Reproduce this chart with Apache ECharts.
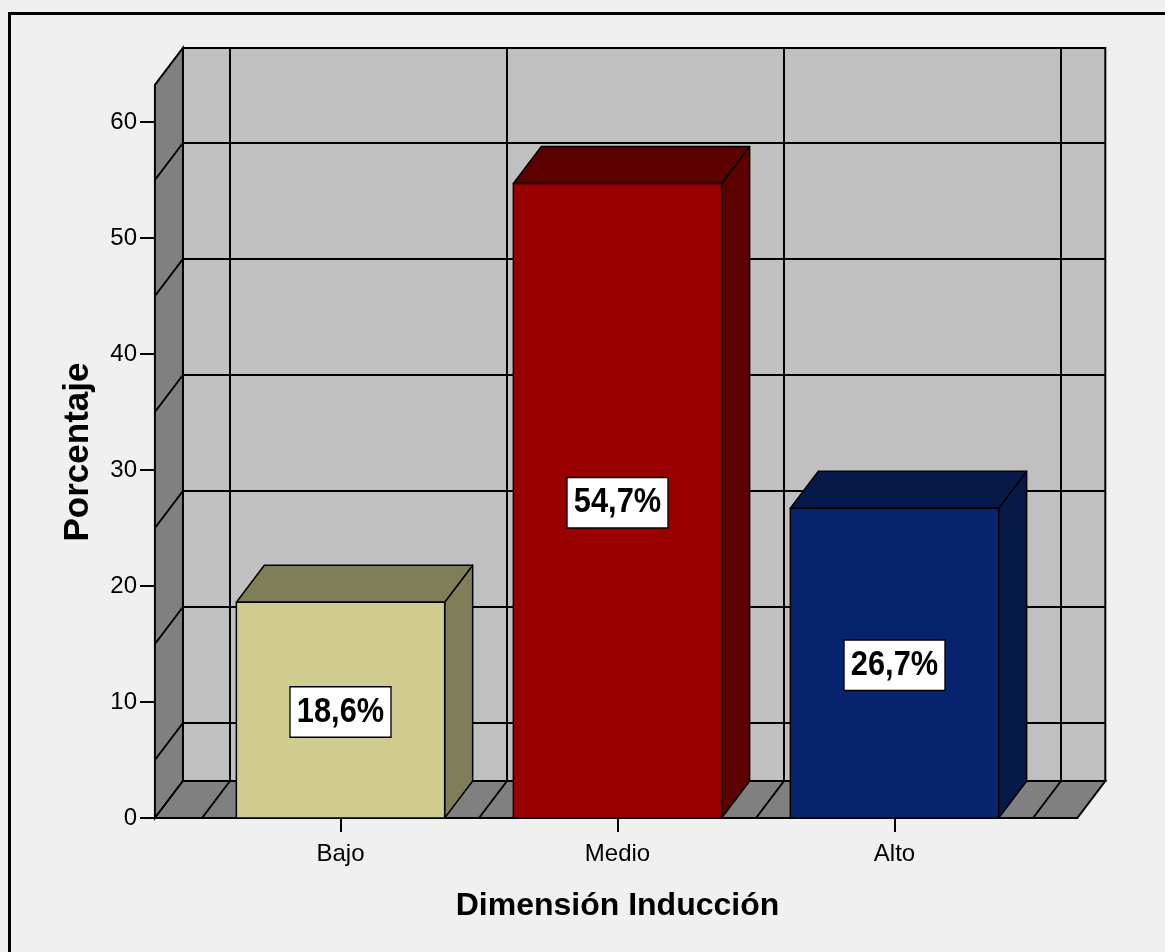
<!DOCTYPE html>
<html>
<head>
<meta charset="utf-8">
<title>Dimensión Inducción</title>
<script src="https://cdn.jsdelivr.net/npm/echarts@6/dist/echarts.min.js"></script>
<style>
    html, body { margin: 0; padding: 0; background: #f0f0f0; }
    #chart { width: 1165px; height: 952px; }
</style>
</head>
<body>
<div id="chart"></div>
<script>
    // data
    const categories = ['Bajo', 'Medio', 'Alto'];
    const percentages = [18.6, 54.7, 26.7];
    const valueLabels = ['18,6%', '54,7%', '26,7%'];
    const yTicks = [0, 10, 20, 30, 40, 50, 60];
    // spss draws the wall grid half a step off the ticks
    const wallGridValues = [5, 15, 25, 35, 45, 55];

    // styles
    const frontColors = ['#d0cb8f', '#990000', '#08246e'];
    const shadeColors = ['#807e58', '#5c0000', '#061a4a'];
    const DX = 28, DY = 37;          // 3d depth offset in px
    const WALL_TOP = 63.2;           // top of walls, in axis units
    const tickFont = "'Liberation Sans', Arial, sans-serif";
    const boldFont = "'Liberation Sans', Arial, sans-serif";

    const myChart = echarts.init(document.getElementById('chart'));

    function renderFrame(params, api) {
        const bw = api.size([1, 0])[0];
        const first = api.coord([0, 0]);
        const last = api.coord([categories.length - 1, 0]);
        const y0 = first[1];
        const yTop = api.coord([0, WALL_TOP])[1];
        const xL = first[0] - bw / 2 - bw * 0.17;
        const xR = last[0] + bw / 2 + bw * 0.16;
        const edge = {stroke: '#000', lineWidth: 2};
        const children = [
            {type: 'rect', shape: {x: xL + DX, y: yTop - DY, width: xR - xL, height: y0 - yTop},
                style: {fill: '#c0c0c0', stroke: '#000', lineWidth: 2}},
            {type: 'polygon', shape: {points: [[xL, yTop], [xL + DX, yTop - DY], [xL + DX, y0 - DY], [xL, y0]]},
                style: {fill: '#808080', stroke: '#000', lineWidth: 2}},
            {type: 'polygon', shape: {points: [[xL, y0], [xL + DX, y0 - DY], [xR + DX, y0 - DY], [xR, y0]]},
                style: {fill: '#808080', stroke: '#000', lineWidth: 2}}
        ];
        wallGridValues.forEach(v => {
            const y = api.coord([0, v])[1];
            children.push({type: 'line', shape: {x1: xL, y1: y, x2: xL + DX, y2: y - DY}, style: edge});
            children.push({type: 'line', shape: {x1: xL + DX, y1: y - DY, x2: xR + DX, y2: y - DY}, style: edge});
        });
        for (let i = 0; i <= categories.length; i++) {
            const x = first[0] - bw / 2 + i * bw;
            children.push({type: 'line', shape: {x1: x, y1: y0, x2: x + DX, y2: y0 - DY}, style: edge});
            children.push({type: 'line', shape: {x1: x + DX, y1: yTop - DY, x2: x + DX, y2: y0 - DY}, style: edge});
        }
        return {type: 'group', children: children};
    }

    function renderBar(params, api) {
        const i = api.value(0);
        const v = api.value(1);
        const bw = api.size([1, 0])[0];
        const top = api.coord([i, v]);
        const base = api.coord([i, 0]);
        const half = bw * 0.376;
        const L = top[0] - half, R = top[0] + half, yT = top[1], yB = base[1];
        const edge = {stroke: '#000', lineWidth: 1.5, lineJoin: 'round'};
        return {
            type: 'group',
            children: [
                {type: 'polygon', shape: {points: [[R, yT], [R + DX, yT - DY], [R + DX, yB - DY], [R, yB]]},
                    style: Object.assign({fill: shadeColors[i]}, edge)},
                {type: 'polygon', shape: {points: [[L, yT], [L + DX, yT - DY], [R + DX, yT - DY], [R, yT]]},
                    style: Object.assign({fill: shadeColors[i]}, edge)},
                {type: 'rect', shape: {x: L, y: yT, width: R - L, height: yB - yT},
                    style: Object.assign({fill: frontColors[i]}, edge)},
                {type: 'text', x: top[0], y: (yT + yB) / 2 + 2, scaleX: 0.88,
                    style: {
                        text: valueLabels[i], align: 'center', verticalAlign: 'middle',
                        font: 'bold 35px ' + boldFont, fill: '#000',
                        backgroundColor: '#fff', borderColor: '#000', borderWidth: 1.5,
                        padding: [8, 7, 6, 7]
                    }}
            ]
        };
    }

    const option = {
        backgroundColor: '#f0f0f0',
        animation: false,
        grid: {left: 202, right: 132, top: 122, bottom: 134},
        xAxis: {
            type: 'category',
            data: categories,
            name: 'Dimensión Inducción',
            nameLocation: 'middle',
            nameGap: 72,
            nameTextStyle: {fontFamily: boldFont, fontWeight: 'bold', fontSize: 32, color: '#000'},
            axisLine: {show: false},
            axisTick: {show: true, alignWithLabel: true, length: 14, lineStyle: {color: '#000', width: 2}},
            axisLabel: {margin: 24, fontFamily: tickFont, fontSize: 24, color: '#000'},
            splitLine: {show: false}
        },
        yAxis: {
            type: 'value',
            min: yTicks[0],
            max: yTicks[yTicks.length - 1],
            interval: 10,
            offset: 47,
            axisLine: {show: true, lineStyle: {color: '#000', width: 2}},
            axisTick: {show: true, length: 15, lineStyle: {color: '#000', width: 2}},
            axisLabel: {margin: 18, fontFamily: tickFont, fontSize: 24, color: '#000'},
            splitLine: {show: false}
        },
        graphic: [
            {type: 'text', x: 78, y: 452, rotation: Math.PI / 2,
                style: {text: 'Porcentaje', align: 'center', verticalAlign: 'middle',
                    font: 'bold 35px ' + boldFont, fill: '#000'}},
            {type: 'rect', shape: {x: 9.5, y: 13.5, width: 1200, height: 1000},
                style: {fill: 'none', stroke: '#000', lineWidth: 3}, silent: true}
        ],
        series: [
            {
                type: 'custom',
                z: 1,
                renderItem: renderFrame,
                data: [[0, 0]],
                encode: {x: 0, y: 1},
                silent: true
            },
            {
                type: 'custom',
                z: 2,
                renderItem: renderBar,
                data: percentages.map((v, i) => [i, v]),
                encode: {x: 0, y: 1}
            }
        ]
    };
    myChart.setOption(option);
</script>
</body>
</html>
